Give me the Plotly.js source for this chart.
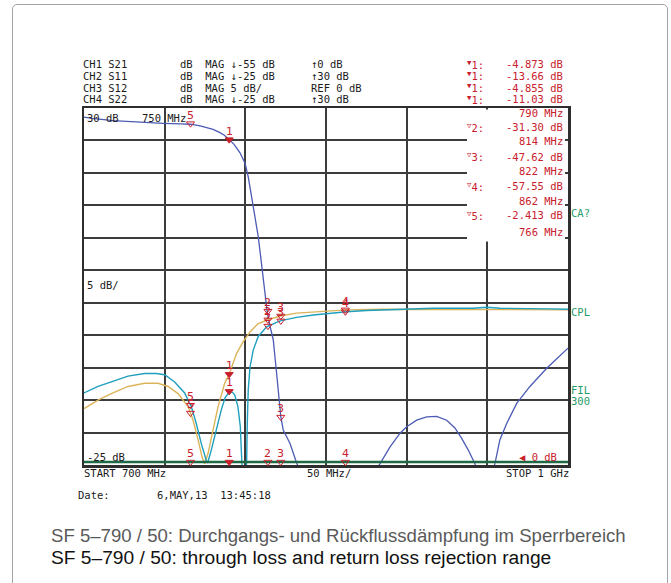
<!DOCTYPE html>
<html><head><meta charset="utf-8">
<script src="https://cdn.plot.ly/plotly-3.0.1.min.js"></script>
<style>
html,body{margin:0;padding:0;background:#fff;overflow:hidden;}
#chart{position:absolute;left:0;top:0;width:671px;height:583px;}
#frame{position:absolute;left:12.25px;top:4.25px;width:653.5px;height:640px;border:1.5px solid #a3a3a3;border-radius:5px;pointer-events:none;}
</style></head><body>
<div id="chart"></div><div id="frame"></div>
<script>
// ---- data ----
const freqS21 = [700,705,718,735,749,760,766,772,776,780,784,787,790,793,796.7,799.8,801.8,803.9,806,808,809.5,811.1,812.2,813.6,815,817.3,819.4,821.1,822,823.5,827.7,831.8,836,852,862,875,883.5,889.7,895.9,900,906.2,912.4,918.6,924.8,929.9,934.1,938.2,942.3,948,954.7,957.8,962,968.2,976.4,986.8,1000];
const s21dB   = [-1.4,-1.6,-1.95,-2.2,-2.36,-2.45,-2.5,-2.75,-3.0,-3.3,-3.75,-4.2,-4.87,-5.6,-6.9,-8.5,-10.6,-13.7,-16.7,-19.8,-22.9,-26.0,-29.0,-31.5,-33.3,-35.7,-40.9,-45.3,-47.6,-49.6,-51.7,-54.7,-57,-58,-57.55,-58,-54.8,-52.2,-50.1,-49.1,-48.1,-47.6,-47.5,-48.1,-49.3,-50.9,-52.7,-54.8,-60,-54.8,-51.1,-48.6,-45.5,-42.9,-40.1,-37.0];

const freqS11 = [700,708.7,716.9,727.3,737.6,744.8,750,756.2,762.4,766.5,769.6,772.7,775.8,776.6,778.9,782,785.1,787.5,789.3,790.3,792,793.4,795.4,796.9,797.5,798.5,800,800.8,801.2,801.8,802.9,804.9,808,813.2,821.5,831.8,842.1,852.5,862.8,875,900,916.5,941.3,949.6,957.8,975,988.8,1000];
const s11dB   = [-13.9,-12.9,-12.2,-11.3,-10.9,-10.9,-11.1,-12.2,-13.9,-16.0,-18.6,-21.7,-24.3,-24.7,-22.7,-19.6,-16.5,-14.6,-14.0,-13.7,-13.8,-14.2,-16.0,-19.1,-22.7,-28,-28,-24.7,-18.6,-13.4,-9.9,-7.3,-5.2,-3.7,-2.8,-2.25,-1.9,-1.6,-1.4,-1.2,-1.0,-0.86,-0.86,-0.7,-0.85,-0.85,-0.95,-1.0];

const freqS22 = [700,708.7,716.9,727.3,737.6,745.9,752.1,758.3,764.5,767.6,770.7,773.1,774.8,776.9,780,783.1,787.2,790.3,794.6,798.7,802.9,808,813.2,821.5,831.8,842.1,862.8,883.5,920,960,1000];
const s22dB   = [-16.3,-15.0,-14.0,-12.9,-12.4,-12.4,-12.9,-14.0,-16.0,-18.1,-21.1,-23.7,-24.8,-23.2,-19.6,-16.0,-12.4,-10.8,-7.8,-6.0,-4.5,-3.2,-2.7,-2.05,-1.6,-1.4,-1.1,-1.0,-1.0,-1.0,-1.1];

// S12 lies below its REF 0 dB line everywhere, so the analyzer pins it to the bottom edge
const freqS12 = [700,1000];
const s12Shown = [0,0];

// markers
const mkLabels   = ['5','1','2','3','4'];
const mkFreq     = [766,790,814,822,862];
const mkS21dB    = [-2.413,-4.873,-31.30,-47.62,-57.55];
const mkS11dB    = [-15.8,-13.66,-3.6,-2.8,-1.4];
const mkS22dB    = [-17.0,-11.03,-2.65,-2.05,-1.1];
const mkS12Shown = [0,0,0,0,0];

// marker readout texts
const readM1Values = ['-4.873 dB','-13.66 dB','-4.855 dB','-11.03 dB'];
const readNames    = ['2','3','4','5'];
const readValues   = ['-31.30 dB','-47.62 dB','-57.55 dB','-2.413 dB'];
const readFreqs    = ['790 MHz','814 MHz','822 MHz','862 MHz','766 MHz'];

const chHeader = [
  ['CH1 S21','dB  MAG ↓-55 dB','↑0 dB'],
  ['CH2 S11','dB  MAG ↓-25 dB','↑30 dB'],
  ['CH3 S12','dB  MAG 5 dB/','REF 0 dB'],
  ['CH4 S22','dB  MAG ↓-25 dB','↑30 dB']
];

// ---- layout helpers ----
const L=84,R=568,T=108,B=465;
const MONO='DejaVu Sans Mono';
const RED='#c8202c', GREEN='#1f9a6a', INK='#1a1a1a';
const px=x=>(x-L)/(R-L), py=y=>(B-y)/(B-T);
const fx=x=>700+(x-L)/(R-L)*300, dby=y=>-(y-T)/(B-T)*55;
function ann(x,y,text,o){
  return Object.assign({xref:'paper',yref:'paper',x:px(x),y:py(y),text:text,showarrow:false,
    xanchor:'left',yanchor:'middle',borderpad:0,borderwidth:0,
    font:{family:MONO,size:10.5,color:INK}},o||{});
}

const annotations=[];
const hy=[64,75.8,87.6,99.4];
chHeader.forEach((r,i)=>{
  annotations.push(ann(83,hy[i],r[0]));
  annotations.push(ann(180,hy[i],r[1]));
  annotations.push(ann(311,hy[i],r[2]));
  annotations.push(ann(467,hy[i],'<sup>▼</sup>1:',{font:{family:MONO,size:10.5,color:RED}}));
  annotations.push(ann(563,hy[i],readM1Values[i],{xanchor:'right',font:{family:MONO,size:10.5,color:RED}}));
});
const fy=[113.3,141,170.7,200.7,231.5], ny=[127.3,156.5,186,215];
readFreqs.forEach((t,i)=>annotations.push(ann(563,fy[i],t,{xanchor:'right',font:{family:MONO,size:10.5,color:RED}})));
readNames.forEach((n,i)=>{
  annotations.push(ann(467,ny[i],'<sup>▽</sup>'+n+':',{font:{family:MONO,size:10.5,color:RED}}));
  annotations.push(ann(563,ny[i],readValues[i],{xanchor:'right',font:{family:MONO,size:10.5,color:RED}}));
});
annotations.push(ann(87,117.5,'30 dB'));
annotations.push(ann(142,117.5,'750 MHz'));
annotations.push(ann(87,285,'5 dB/'));
annotations.push(ann(87,457,'-25 dB'));
annotations.push(ann(519,457,'◀ 0 dB',{font:{family:MONO,size:10.5,color:RED}}));
annotations.push(ann(84,473.5,'START 700 MHz'));
annotations.push(ann(307,473.5,'50 MHz/'));
annotations.push(ann(569,473.5,'STOP 1 GHz',{xanchor:'right'}));
annotations.push(ann(78,495,'Date:'));
annotations.push(ann(157,495,'6,MAY,13  13:45:18'));
annotations.push(ann(571,212.5,'CA?',{font:{family:MONO,size:10.5,color:GREEN}}));
annotations.push(ann(571,311.5,'CPL',{font:{family:MONO,size:10.5,color:GREEN}}));
annotations.push(ann(571,389.5,'FIL',{font:{family:MONO,size:10.5,color:GREEN}}));
annotations.push(ann(571,400.5,'300',{font:{family:MONO,size:10.5,color:GREEN}}));
annotations.push(ann(51,535,'SF 5–790 / 50: Durchgangs- und Rückflussdämpfung im Sperrbereich',{font:{family:'Liberation Sans',size:18.6,color:'#5a5a5a'}}));
annotations.push(ann(51,557,'SF 5–790 / 50: through loss and return loss rejection range',{font:{family:'Liberation Sans',size:19.2,color:'#111'}}));

// marker number labels, drawn just above each triangle
const ranges={y:[-55,0],y2:[-25,30],y3:[-0.45,54.55]};
function mkLabelsAnn(vals,yref){
  vals.forEach((v,i)=>{
    const r=ranges[yref];
    if(v<r[0]||v>r[1]) return;
    annotations.push({xref:'x',yref:yref,x:mkFreq[i],y:v,text:mkLabels[i],showarrow:false,
      xanchor:'center',yanchor:'middle',yshift:8.5,borderpad:0,borderwidth:0,
      font:{family:'DejaVu Sans',size:11,color:RED}});
  });
}
mkLabelsAnn(mkS22dB,'y2'); mkLabelsAnn(mkS11dB,'y2'); mkLabelsAnn(mkS21dB,'y'); mkLabelsAnn(mkS12Shown,'y3');

const sym = mkLabels.map(l=>l==='1'?'triangle-down':'triangle-down-open');
function mk(y,yaxis,clip){
  return {x:mkFreq,y:y,yaxis:yaxis,mode:'markers',cliponaxis:clip,
    marker:{symbol:sym,size:7,color:RED,line:{color:RED,width:1}},hoverinfo:'skip'};
}

const traces=[
  {x:freqS12,y:s12Shown,yaxis:'y3',mode:'lines',line:{color:'#1d6a45',width:2.5},name:'S12'},
  {x:freqS22,y:s22dB,yaxis:'y2',mode:'lines',line:{color:'#dbb45a',width:1.4},name:'S22'},
  {x:freqS11,y:s11dB,yaxis:'y2',mode:'lines',line:{color:'#1f9fbd',width:1.4},name:'S11'},
  {x:freqS21,y:s21dB,yaxis:'y',mode:'lines',line:{color:'#4c5bb4',width:1.3},name:'S21'},
  mk(mkS22dB,'y2',true),
  mk(mkS11dB,'y2',true),
  mk(mkS21dB,'y',true),
  mk(mkS12Shown,'y3',false)
];

const ax={showticklabels:false,ticks:'',zeroline:false,fixedrange:true};
const layout={
  width:671,height:583,margin:{l:L,r:671-R,t:T,b:583-B},
  paper_bgcolor:'#fff',plot_bgcolor:'#fff',showlegend:false,
  xaxis:Object.assign({range:[700,1000],tick0:700,dtick:50,showgrid:true,gridcolor:'#3c3c3c',gridwidth:2,
    showline:true,mirror:true,linecolor:'#2e2e2e',linewidth:2.5,layer:'below traces'},ax),
  yaxis:Object.assign({range:ranges.y,tick0:0,dtick:5,showgrid:true,gridcolor:'#3c3c3c',gridwidth:2,
    showline:true,mirror:true,linecolor:'#2e2e2e',linewidth:2.5,layer:'below traces'},ax),
  yaxis2:Object.assign({range:ranges.y2,overlaying:'y',showgrid:false,showline:false},ax),
  yaxis3:Object.assign({range:ranges.y3,overlaying:'y',showgrid:false,showline:false},ax),
  shapes:[{type:'rect',xref:'x',yref:'y',x0:fx(467),x1:fx(565),y0:dby(109.5),y1:dby(241.5),
    fillcolor:'#fff',line:{width:0},layer:'above'}],
  annotations:annotations
};
Plotly.newPlot('chart',traces,layout,{staticPlot:true,displayModeBar:false});
</script></body></html>
